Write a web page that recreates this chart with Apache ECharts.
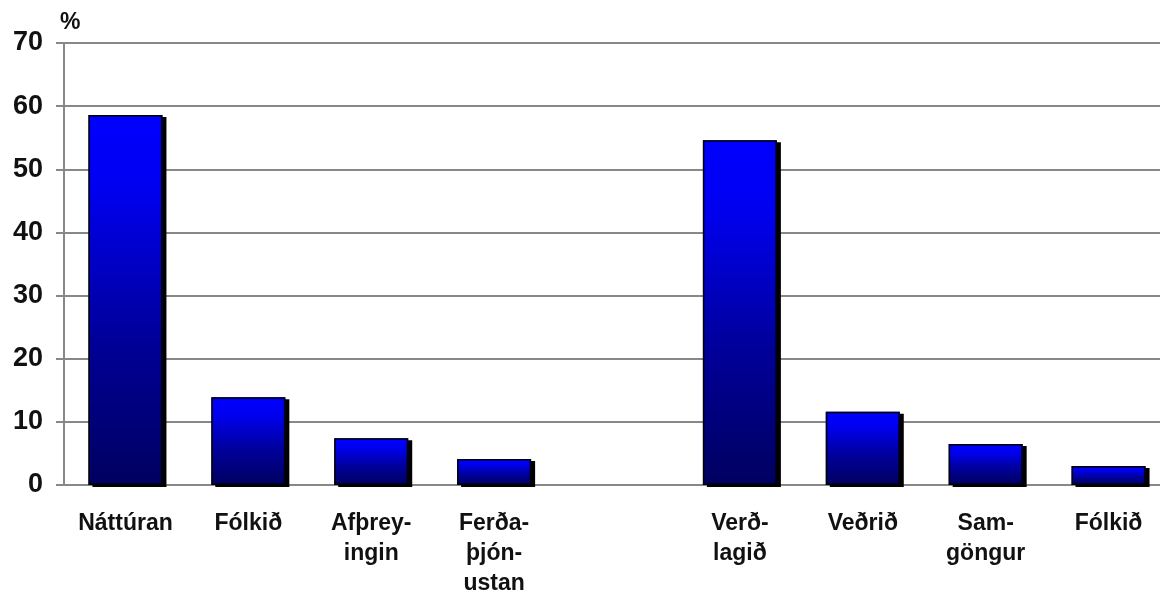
<!DOCTYPE html>
<html>
<head>
<meta charset="utf-8">
<script src="https://cdn.jsdelivr.net/npm/echarts@6/dist/echarts.min.js"></script>
<style>
  html, body { margin: 0; padding: 0; background: #fff; }
  #chart { width: 1160px; height: 595px; }
</style>
</head>
<body>
<div id="chart"></div>
<script>
// flokkar (tómur flokkur = bil á milli hópa)
var categories = ['Náttúran', 'Fólkið', 'Afþrey-\ningin', 'Ferða-\nþjón-\nustan', '', 'Verð-\nlagið', 'Veðrið', 'Sam-\ngöngur', 'Fólkið'];
var values = [58.6, 13.9, 7.4, 4.1, null, 54.6, 11.6, 6.5, 3.0];
var yTicks = [0, 70, 10];   // min, max, interval

var font = '"Liberation Sans", Arial, sans-serif';
var gridGray = '#888888';

var myChart = echarts.init(document.getElementById('chart'), null, { renderer: 'canvas' });

var option = {
  animation: false,
  textStyle: { fontFamily: font },
  graphic: [{
    type: 'text',
    left: 60,
    top: 11,
    style: { text: '%', font: 'bold 23px ' + font, fill: '#111' }
  }],
  grid: {
    left: 64,
    right: -10,
    top: 43,
    bottom: 110,
    outerBoundsMode: 'none'
  },
  xAxis: {
    type: 'category',
    data: categories,
    axisLine: { show: false },
    axisTick: { show: false },
    axisLabel: {
      interval: 0,
      margin: 24,
      fontSize: 23,
      fontWeight: 'bold',
      lineHeight: 30,
      color: '#111',
      fontFamily: font
    }
  },
  yAxis: {
    type: 'value',
    min: yTicks[0],
    max: yTicks[1],
    interval: yTicks[2],
    axisLine: { show: true, lineStyle: { color: gridGray, width: 2 } },
    axisTick: { show: true, length: 8, lineStyle: { color: gridGray, width: 2 } },
    axisLabel: {
      margin: 21,
      fontSize: 27,
      fontWeight: 'bold',
      color: '#111',
      fontFamily: font
    },
    splitLine: { show: true, lineStyle: { color: gridGray, width: 2 } }
  },
  series: [{
    // fylling + skuggi
    type: 'bar',
    data: values,
    barWidth: 74,
    itemStyle: {
      color: new echarts.graphic.LinearGradient(0, 0, 0, 1, [
        { offset: 0, color: '#0000ff' },
        { offset: 0.2, color: '#0000f0' },
        { offset: 0.6, color: '#00009a' },
        { offset: 1, color: '#000060' }
      ]),
      shadowColor: '#000',
      shadowBlur: 0,
      shadowOffsetX: 4,
      shadowOffsetY: 2
    }
  }, {
    // útlína ofan á
    type: 'bar',
    data: values,
    barWidth: 74,
    barGap: '-100%',
    silent: true,
    itemStyle: {
      color: 'rgba(0,0,0,0)',
      borderColor: '#000',
      borderWidth: 1.5
    }
  }]
};

option && myChart.setOption(option);
</script>
</body>
</html>
